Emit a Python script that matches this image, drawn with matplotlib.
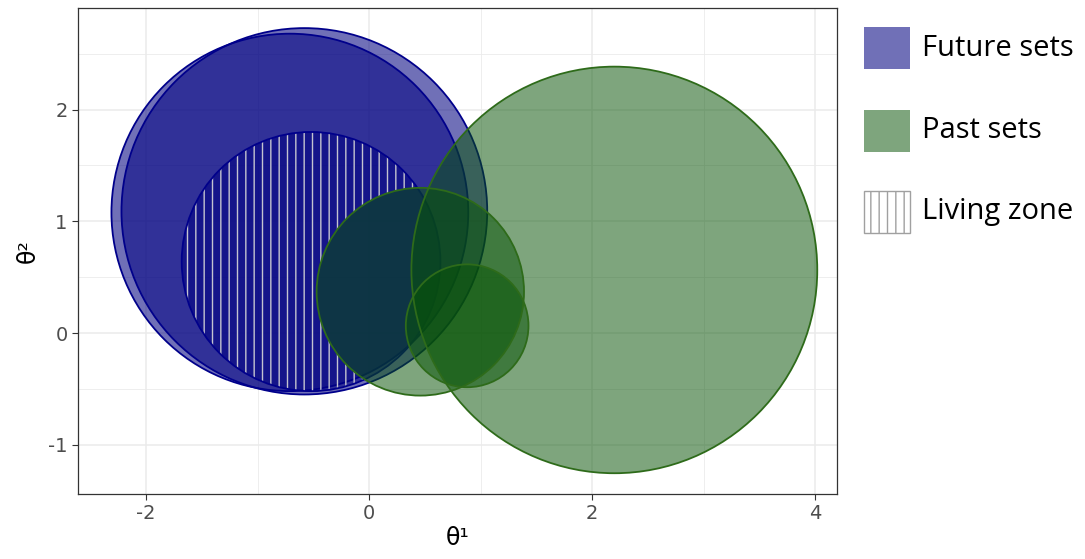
import matplotlib
matplotlib.use("Agg")
import matplotlib.pyplot as plt
from matplotlib.patches import Circle, Rectangle, PathPatch
from matplotlib.path import Path
from matplotlib.transforms import Affine2D

plt.rcParams["axes.unicode_minus"] = False
plt.rcParams["hatch.linewidth"] = 1.0

# future sets (blue), living zone (hatched), past sets (green)
future_x = [-0.71, -0.58]
future_y = [1.08, 1.09]
future_r = [1.60, 1.64]

living_x = [-0.52]
living_y = [0.64]
living_r = [1.16]

past_x = [2.20, 0.46, 0.88]
past_y = [0.565, 0.37, 0.065]
past_r = [1.82, 0.93, 0.55]

xticks = [-2, 0, 2, 4]
yticks = [-1, 0, 1, 2]
legend_labels = ["Future sets", "Past sets", "Living zone"]

W, H = 1085, 559
fig = plt.figure(figsize=(W / 100, H / 100), dpi=100)
ax = fig.add_axes([78 / W, (H - 494) / H, (837 - 78) / W, (494 - 8) / H])

BLUE = "#000080"
BLUE_EDGE = "#00008B"
GREEN = "#085406"
GREEN_EDGE = "#2E6B1A"
B_ALPHA = 0.56
G_ALPHA = 0.52


def circle_path(x, y, r, flip=False):
    sy = -r if flip else r
    return Path.unit_circle().transformed(Affine2D().scale(r, sy).translate(x, y))


for x, y, r in zip(future_x, future_y, future_r):
    ax.add_patch(Circle((x, y), r, facecolor=BLUE, alpha=B_ALPHA, edgecolor="none", zorder=2))
    ax.add_patch(Circle((x, y), r, facecolor="none", edgecolor=BLUE_EDGE, lw=1.3, zorder=2.1))

for x, y, r in zip(living_x, living_y, living_r):
    ax.add_patch(Circle((x, y), r, facecolor=BLUE, alpha=B_ALPHA, edgecolor="none", zorder=3))
    # stripes are hidden where the middle past set lies on top
    outline = Circle((x, y), r, facecolor="none", edgecolor=BLUE_EDGE, lw=1.3, zorder=3.2)
    holed = Path.make_compound_path(circle_path(x, y, r),
                                    circle_path(past_x[1], past_y[1], past_r[1], flip=True))
    stripes = PathPatch(holed, facecolor="none", edgecolor="#C4C4D0", lw=0,
                        hatch="||", zorder=3.1)
    ax.add_patch(stripes)
    ax.add_patch(outline)
    stripes.set_clip_path(outline)

for x, y, r in zip(past_x, past_y, past_r):
    ax.add_patch(Circle((x, y), r, facecolor=GREEN, alpha=G_ALPHA, edgecolor="none", zorder=4))
    ax.add_patch(Circle((x, y), r, facecolor="none", edgecolor=GREEN_EDGE, lw=1.3, zorder=4.1))

ax.set_xlim(-2.61, 4.197)
ax.set_ylim(-1.441, 2.91)

ax.set_xticks(xticks)
ax.set_yticks(yticks)
ax.set_xticks([-1, 1, 3], minor=True)
ax.set_yticks([-0.5, 0.5, 1.5, 2.5], minor=True)
ax.grid(True, which="major", color="#EBEBEB", lw=1.1, zorder=0)
ax.grid(True, which="minor", color="#EBEBEB", lw=0.6, zorder=0)
ax.set_axisbelow(True)
ax.tick_params(which="minor", length=0)
ax.tick_params(which="major", length=4, color="#333333", width=0.8,
               labelcolor="#4D4D4D", labelsize=14)
for s in ax.spines.values():
    s.set_color("#333333")
    s.set_linewidth(0.9)

ax.set_xlabel("θ¹", fontsize=17, labelpad=2)
ax.set_ylabel("θ²", fontsize=17, labelpad=6)

# legend drawn in figure pixels
key_tops = [27, 110, 191]
for i, label in enumerate(legend_labels):
    y0 = H - key_tops[i] - 42
    if i == 0:
        p = Rectangle((864 / W, y0 / H), 46 / W, 42 / H, transform=fig.transFigure,
                      facecolor=BLUE, alpha=B_ALPHA, edgecolor="none")
    elif i == 1:
        p = Rectangle((864 / W, y0 / H), 46 / W, 42 / H, transform=fig.transFigure,
                      facecolor=GREEN, alpha=G_ALPHA, edgecolor="none")
    else:
        p = Rectangle((864 / W, y0 / H), 46 / W, 42 / H, transform=fig.transFigure,
                      facecolor="white", edgecolor="#A0A0A0", lw=1.0, hatch="||")
    fig.patches.append(p)
    fig.text(922 / W, (y0 + 21) / H, label, fontsize=21, family="Open Sans",
             va="center", ha="left", color="black")

fig.savefig("out.png", dpi=100)
